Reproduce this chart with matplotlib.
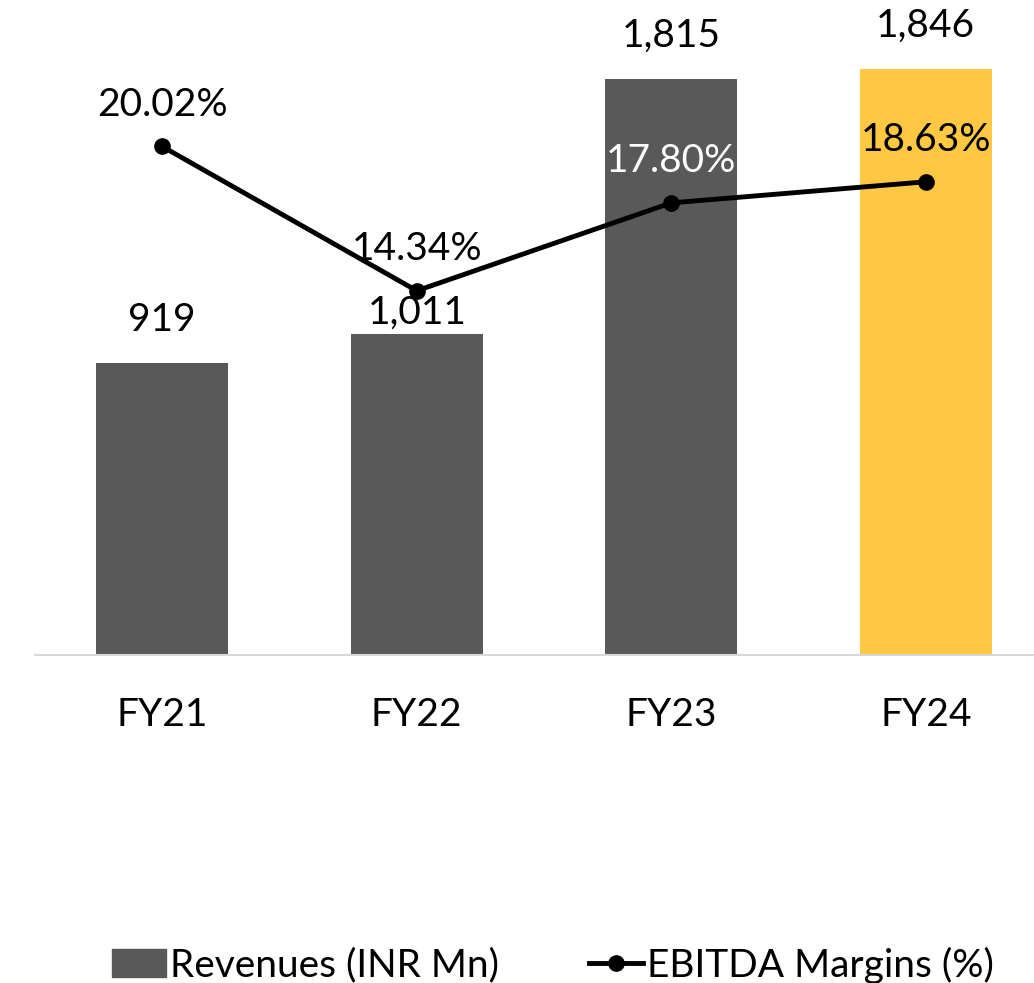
import numpy as np
import matplotlib.pyplot as plt
from matplotlib.patches import Patch
from matplotlib.lines import Line2D

years = ["FY21", "FY22", "FY23", "FY24"]
revenues = [919, 1011, 1815, 1846]
ebitda_margin = [20.02, 14.34, 17.80, 18.63]

bar_colors = ["#595959", "#595959", "#595959", "#FFC843"]
margin_label_colors = ["black", "black", "white", "black"]
rev_label_pad = [18, 2, 18, 18]

plt.rcParams['font.family'] = ['Lato', 'DejaVu Sans']
fs = 28

fig = plt.figure(figsize=(10.34, 9.83), dpi=100)
ax = fig.add_axes([35 / 1034, 1 - 655 / 983, 1018 / 1034, 635 / 983])
x = np.arange(len(years))

ax.bar(x, revenues, width=0.52, color=bar_colors, zorder=2)
for xi, v, pad in zip(x, revenues, rev_label_pad):
    ax.annotate(f"{v:,}", (xi, v), xytext=(0, pad), textcoords="offset points",
                ha="center", va="bottom", fontsize=fs)

ax.set_xlim(-0.5, 3.5)
ax.set_ylim(0, 2000)
ax.set_xticks(x)
ax.set_xticklabels(years, fontsize=fs)
ax.tick_params(axis="x", length=0, pad=30)
ax.set_yticks([])
for s in ["top", "right", "left"]:
    ax.spines[s].set_visible(False)
ax.spines["bottom"].set_color("#d9d9d9")
ax.spines["bottom"].set_linewidth(1.5)

ax2 = ax.twinx()
ax2.plot(x, ebitda_margin, color="black", linewidth=3.5, marker="o", markersize=11, zorder=3)
for xi, v, c in zip(x, ebitda_margin, margin_label_colors):
    ax2.annotate(f"{v:.2f}%", (xi, v), xytext=(0, 30), textcoords="offset points",
                 ha="center", va="center", fontsize=fs, color=c)
ax2.set_ylim(0, 25)
ax2.set_yticks([])
for s in ["top", "right", "left", "bottom"]:
    ax2.spines[s].set_visible(False)

handles = [Patch(color="#595959", label="Revenues (INR Mn)"),
           Line2D([0], [0], color="black", linewidth=3.5, marker="o", markersize=11,
                  label="EBITDA Margins (%)")]
fig.legend(handles=handles, loc="center", bbox_to_anchor=(553 / 1034, 1 - 965 / 983),
           ncol=2, frameon=False, fontsize=fs, handlelength=1.4, handletextpad=0.1,
           columnspacing=2.3, borderpad=0)

fig.savefig("out.png", dpi=100)
